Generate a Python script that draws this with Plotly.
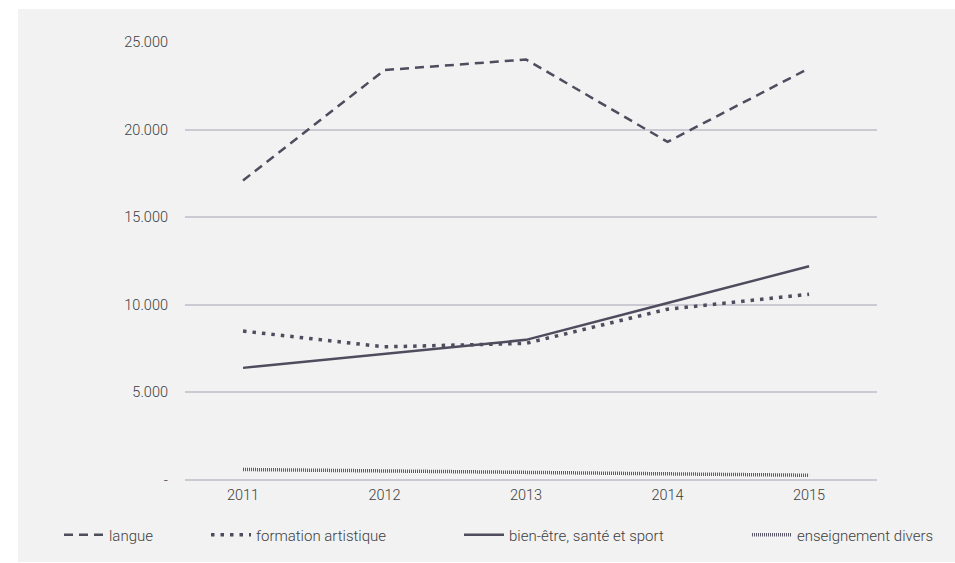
import plotly.graph_objects as go

# Années et effectifs par domaine d'enseignement
annees = ["2011", "2012", "2013", "2014", "2015"]
langue = [17100, 23400, 24000, 19300, 23500]
formation_artistique = [8500, 7600, 7800, 9750, 10600]
bien_etre_sante_sport = [6400, 7200, 8000, 10100, 12200]
enseignement_divers = [600, 520, 450, 360, 270]

y_tickvals = [0, 5000, 10000, 15000, 20000, 25000]
y_ticktext = ["-", "5.000", "10.000", "15.000", "20.000", "25.000"]

LINE = "#4f4c5e"
GRID = "#cbc9d1"
BG = "#f2f2f2"
TXT = "#404040"
FONT = "Roboto"

W, H = 955, 563
ML, MR, MT, MB = 185, 78, 42, 83
PW = W - ML - MR
PH = H - MT - MB


def px_x(px):
    return (px - ML) / PW


def px_y(py):
    return (H - MB - py) / PH


series = [
    ("langue", langue, dict(color=LINE, width=2.5, dash="9px,6px"), "legend"),
    ("formation artistique", formation_artistique,
     dict(color=LINE, width=3.5, dash="3.5px,6px"), "legend2"),
    ("bien-être, santé et sport", bien_etre_sante_sport,
     dict(color=LINE, width=2.5), "legend3"),
    ("enseignement divers", enseignement_divers,
     dict(color="#5c5968", width=3.5, dash="1px,1px"), "legend4"),
]

fig = go.Figure()
for name, vals, line, leg in series:
    fig.add_trace(go.Scatter(x=annees, y=vals, name=name, mode="lines",
                             line=line, legend=leg, showlegend=True))

# Positions des légendes (début du texte de chaque entrée)
text_starts = [111, 258, 511, 799]
legend_y = px_y(535)
legend_common = dict(orientation="h", yanchor="middle", xanchor="left",
                     bgcolor="rgba(0,0,0,0)", itemwidth=40,
                     font=dict(family=FONT, size=15, color=TXT, weight=300))
layout_legends = {}
for i, ts in enumerate(text_starts):
    key = "legend" if i == 0 else f"legend{i + 1}"
    layout_legends[key] = dict(legend_common, x=px_x(ts - 52), y=legend_y)

tick_font = dict(family=FONT, size=14.5, color=TXT, weight=300)

fig.update_layout(
    width=W, height=H,
    margin=dict(l=ML, r=MR, t=MT, b=MB),
    paper_bgcolor="white",
    plot_bgcolor=BG,
    font=dict(family=FONT, size=14, color=TXT, weight=300),
    shapes=[dict(type="rect", xref="paper", yref="paper", layer="below",
                 x0=px_x(18), x1=px_x(956), y0=px_y(562), y1=px_y(9),
                 fillcolor=BG, line=dict(width=0))],
    xaxis=dict(type="category", range=[-0.41, 4.48], showgrid=False,
               zeroline=False, showline=False, ticks="",
               ticklabelstandoff=4, tickfont=tick_font),
    yaxis=dict(range=[0, 25000], tickvals=y_tickvals, ticktext=y_ticktext,
               showgrid=True, gridcolor=GRID, gridwidth=1.5,
               zeroline=True, zerolinecolor=GRID, zerolinewidth=1.5,
               showline=False, ticks="", ticklabelstandoff=16,
               tickfont=tick_font),
    **layout_legends,
)

fig.write_html("out.html")
